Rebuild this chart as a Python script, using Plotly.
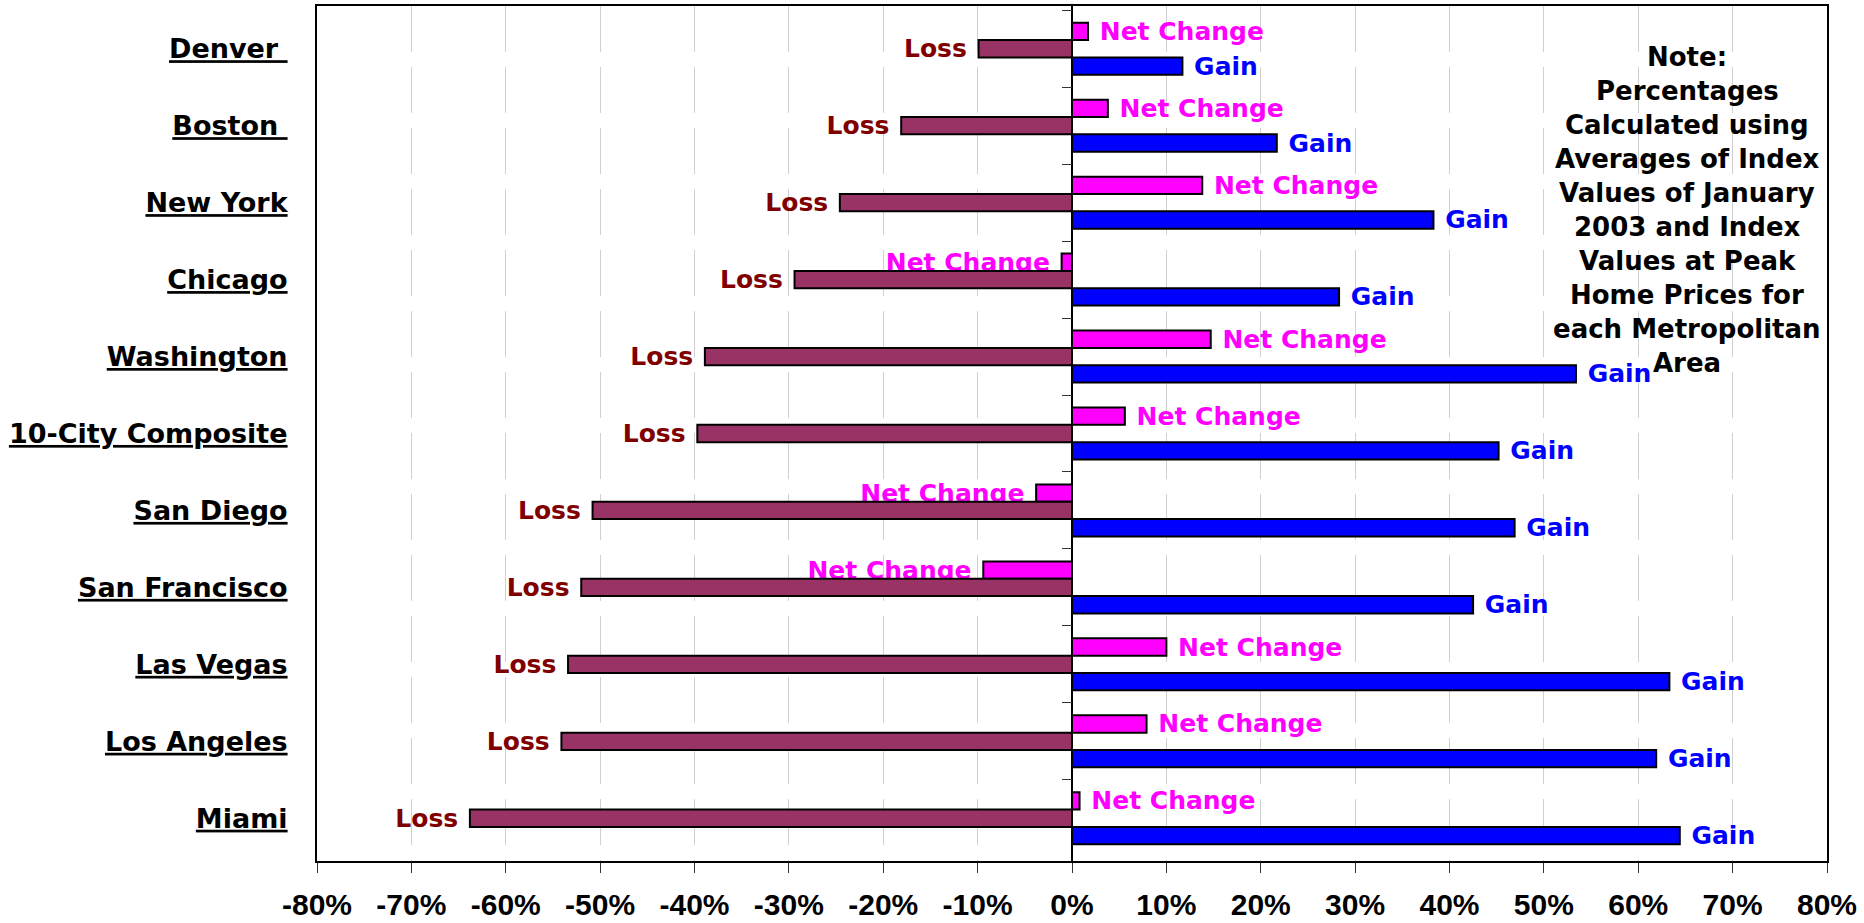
import plotly.graph_objects as go

# Metropolitan areas, top to bottom
cities = ["Denver", "Boston", "New York", "Chicago", "Washington", "10-City Composite",
          "San Diego", "San Francisco", "Las Vegas", "Los Angeles", "Miami"]
city_labels = ["Denver\u00a0", "Boston\u00a0", "New York", "Chicago", "Washington",
               "10-City Composite", "San Diego", "San Francisco", "Las Vegas",
               "Los Angeles", "Miami"]

# Percent change in home price index
net_change = [1.7, 3.8, 13.8, -1.1, 14.7, 5.6, -3.8, -9.4, 10.0, 7.9, 0.8]
loss = [-9.9, -18.1, -24.6, -29.4, -38.9, -39.7, -50.8, -52.0, -53.4, -54.1, -63.8]
gain = [11.7, 21.7, 38.3, 28.3, 53.4, 45.2, 46.9, 42.5, 63.3, 61.9, 64.4]

x_ticks = [-80, -70, -60, -50, -40, -30, -20, -10, 0, 10, 20, 30, 40, 50, 60, 70, 80]
x_tick_labels = ["-80%", "-70%", "-60%", "-50%", "-40%", "-30%", "-20%", "-10%", "0%",
                 "10%", "20%", "30%", "40%", "50%", "60%", "70%", "80%"]

note_lines = ["Note:", "Percentages", "Calculated using", "Averages of Index",
              "Values of January", "2003 and Index", "Values at Peak",
              "Home Prices for", "each Metropolitan", "Area"]

W, H = 1864, 923
M_L, M_R, M_T, M_B = 317, 37, 6, 62
LABEL_FONT = "DejaVu Sans, Arial, sans-serif"
NB = "\u00a0"


def side_text(name, values):
    # pad the label away from the end of its bar
    return [NB + name if v >= 0 else name + NB for v in values]


def bar_trace(name, values, fill, label_color):
    return go.Bar(
        name=name, y=cities, x=values, orientation="h",
        marker=dict(color=fill, line=dict(color="black", width=2)),
        text=side_text(name, values), textposition="outside", textangle=0,
        constraintext="none", cliponaxis=False,
        textfont=dict(family=LABEL_FONT, size=25, color=label_color, weight="bold"),
        hoverinfo="x+y",
    )


fig = go.Figure()
fig.add_trace(bar_trace("Net Change", net_change, "#FF00FF", "#FF00FF"))
fig.add_trace(bar_trace("Loss", loss, "#993366", "#800000"))
fig.add_trace(bar_trace("Gain", gain, "#0000FF", "#0000FF"))

# invisible helper so the category ticks along the zero line get drawn
fig.add_trace(go.Scatter(x=[0] * len(cities), y=cities, yaxis="y2", mode="none",
                         hoverinfo="skip", showlegend=False))

x_min, x_max = x_ticks[0], x_ticks[-1]
zero_pos = (0 - x_min) / (x_max - x_min)

fig.update_layout(
    width=W, height=H,
    margin=dict(l=M_L, r=M_R, t=M_T, b=M_B, autoexpand=False),
    paper_bgcolor="white", plot_bgcolor="white",
    barmode="group", bargap=0.324, bargroupgap=0,
    showlegend=False,
    xaxis=dict(
        range=[x_min, x_max], tickvals=x_ticks, ticktext=x_tick_labels,
        showgrid=True, gridcolor="#D0D0D0", gridwidth=1, griddash="46px,15px",
        zeroline=True, zerolinecolor="black", zerolinewidth=2,
        showline=True, linecolor="black", linewidth=2, mirror=True,
        ticks="outside", ticklen=10, tickcolor="#333333", tickwidth=1,
        ticklabelstandoff=6,
        tickfont=dict(family="Liberation Sans, Arial, sans-serif", size=30,
                      color="black", weight="bold"),
    ),
    yaxis=dict(
        type="category", categoryorder="array", categoryarray=cities,
        autorange="reversed",
        tickvals=cities, ticktext=["<u>%s</u>" % c for c in city_labels],
        showgrid=False, zeroline=False,
        showline=True, linecolor="black", linewidth=2, mirror=True,
        ticks="", ticklabelstandoff=22,
        tickfont=dict(family=LABEL_FONT, size=27, color="black", weight="bold"),
    ),
    yaxis2=dict(
        type="category", categoryorder="array", categoryarray=cities,
        matches="y", overlaying="y", anchor="free", position=zero_pos, side="left",
        tickson="boundaries", ticks="outside", ticklen=10, tickcolor="#333333",
        tickwidth=1, showticklabels=False, showgrid=False, showline=False,
        zeroline=False,
    ),
)

# explanatory note in the upper right of the plot
plot_h = H - M_T - M_B
first_line_y = 57
line_step = 34
for i, line in enumerate(note_lines):
    y_px = first_line_y + i * line_step
    fig.add_annotation(
        text=line, xref="paper", yref="paper",
        x=(1687 - M_L) / (W - M_L - M_R), y=1 - (y_px - M_T) / plot_h,
        xanchor="center", yanchor="middle", showarrow=False,
        font=dict(family=LABEL_FONT, size=26, color="black", weight="bold"),
    )

fig.write_html("out.html")
